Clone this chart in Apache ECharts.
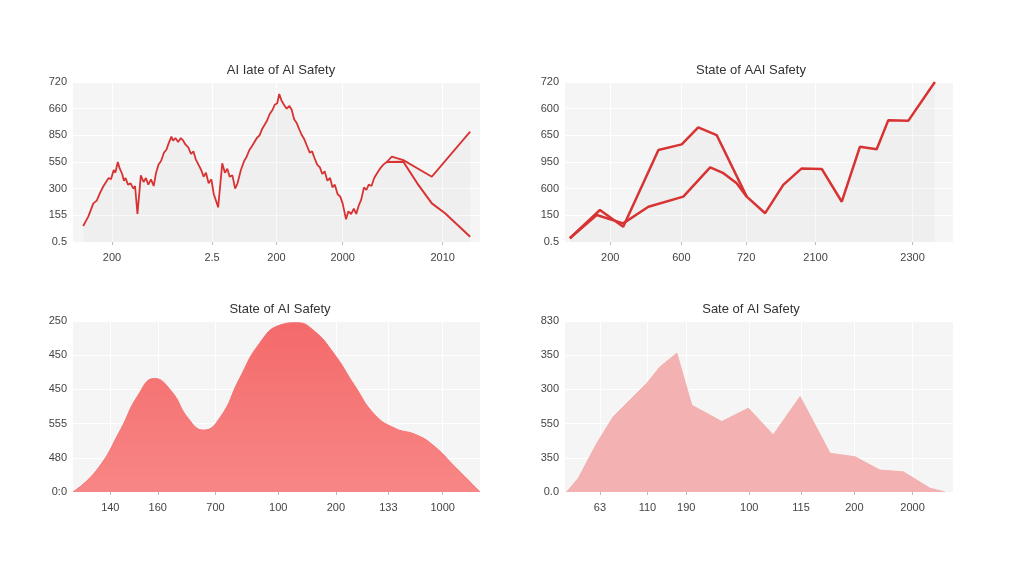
<!DOCTYPE html>
<html>
<head>
<meta charset="utf-8">
<script src="https://cdn.jsdelivr.net/npm/echarts@6/dist/echarts.min.js"></script>
<style>
  html, body { margin: 0; padding: 0; background: #fff; }
  #main { width: 1024px; height: 576px; }
</style>
</head>
<body>
<div id="main"></div>
<script>
// titles of the four panels
var titles = ['AI Iate of AI Safety', 'State of AAI Safety', 'State of AI Safety', 'Sate of AI Safety']

// y tick labels, bottom to top (axis runs on tick index)
var yLabels1 = ['0.5', '155', '300', '550', '850', '660', '720']
var yLabels2 = ['0.5', '150', '600', '950', '650', '600', '720']
var yLabels3 = ['0:0', '480', '555', '450', '450', '250']
var yLabels4 = ['0.0', '350', '550', '300', '350', '830']

// x tick labels and where they sit on the 0..12 axis
var xLabels1 = ['200', '2.5', '200', '2000', '2010']
var xPos1 = [1.15, 4.1, 6.0, 7.95, 10.9]
var xLabels2 = ['200', '600', '720', '2100', '2300']
var xPos2 = [1.4, 3.6, 5.6, 7.75, 10.75]
var xLabels3 = ['140', '160', '700', '100', '200', '133', '1000']
var xPos3 = [1.1, 2.5, 4.2, 6.05, 7.75, 9.3, 10.9]
var xLabels4 = ['63', '110', '190', '100', '115', '200', '2000']
var xPos4 = [1.08, 2.55, 3.75, 5.7, 7.3, 8.95, 10.75]

// panel 1: jagged line, then two branches at the end
var line1 = [[0.3, 0.6], [0.45, 0.95], [0.6, 1.45], [0.7, 1.55], [0.8, 1.85], [0.9, 2.1], [0.95, 2.05],
  [1.05, 2.4], [1.12, 2.35], [1.2, 2.7], [1.25, 2.6], [1.32, 3.0], [1.38, 2.75], [1.45, 2.55], [1.5, 2.3],
  [1.55, 2.4], [1.62, 2.15], [1.7, 2.2], [1.78, 2.0], [1.83, 2.1], [1.9, 1.05], [2.0, 2.5], [2.08, 2.25],
  [2.15, 2.4], [2.22, 2.15], [2.3, 2.35], [2.38, 2.1], [2.45, 2.6], [2.52, 2.9], [2.6, 3.05], [2.68, 3.35],
  [2.75, 3.45], [2.82, 3.7], [2.9, 3.95], [2.95, 3.8], [3.02, 3.9], [3.1, 3.75], [3.18, 3.9], [3.25, 3.8],
  [3.32, 3.65], [3.4, 3.55], [3.48, 3.3], [3.55, 3.4], [3.62, 3.1], [3.7, 2.9], [3.78, 2.7], [3.85, 2.45],
  [3.92, 2.6], [4.0, 2.2], [4.08, 2.35], [4.15, 1.8], [4.28, 1.3], [4.4, 2.95], [4.48, 2.6], [4.55, 2.75],
  [4.62, 2.45], [4.7, 2.5], [4.78, 2.0], [4.85, 2.2], [4.95, 2.7], [5.05, 3.05], [5.12, 3.2], [5.2, 3.45],
  [5.28, 3.6], [5.35, 3.75], [5.42, 3.9], [5.5, 4.0], [5.58, 4.25], [5.65, 4.4], [5.72, 4.55], [5.8, 4.8],
  [5.88, 4.95], [5.95, 5.15], [6.02, 5.2], [6.08, 5.55], [6.15, 5.3], [6.22, 5.15], [6.3, 5.0], [6.38, 5.1],
  [6.45, 4.95], [6.52, 4.6], [6.6, 4.45], [6.68, 4.2], [6.75, 4.0], [6.82, 3.85], [6.9, 3.6], [6.98, 3.35],
  [7.05, 3.4], [7.12, 3.15], [7.2, 2.9], [7.28, 2.8], [7.35, 2.55], [7.42, 2.65], [7.5, 2.3], [7.58, 2.4],
  [7.65, 2.05], [7.72, 2.15], [7.8, 1.8], [7.88, 1.7], [7.95, 1.45], [8.05, 0.85], [8.12, 1.15], [8.2, 1.05],
  [8.28, 1.25], [8.35, 1.05], [8.42, 1.35], [8.5, 1.6], [8.58, 2.05], [8.65, 1.95], [8.72, 2.15], [8.8, 2.1],
  [8.88, 2.4], [8.95, 2.55], [9.05, 2.75], [9.15, 2.9], [9.25, 3.0], [9.4, 3.2], [9.74, 3.07], [10.58, 2.45],
  [11.71, 4.14]]
var branch1 = [[9.25, 3.0], [9.74, 3.01], [10.15, 2.2], [10.58, 1.45], [10.97, 1.08], [11.71, 0.2]]

// panel 2: two lines that meet in the middle
var line2 = [[0.15, 0.14], [1.08, 1.2], [1.8, 0.57], [2.89, 3.45], [3.61, 3.66], [4.12, 4.3], [4.69, 4.01],
  [5.62, 1.7], [6.19, 1.08], [6.75, 2.14], [7.32, 2.76], [7.94, 2.74], [8.56, 1.51], [9.12, 3.57],
  [9.64, 3.48], [10.0, 4.57], [10.62, 4.55], [11.44, 6.0]]
var branch2 = [[0.15, 0.14], [0.98, 1.01], [1.8, 0.7], [2.58, 1.32], [3.66, 1.7], [4.49, 2.8], [4.9, 2.58],
  [5.31, 2.2], [5.62, 1.7]]

// panel 3: smooth area
var area3 = [[0, 0], [0.7, 0.64], [1.4, 1.82], [1.9, 2.8], [2.4, 3.32], [2.9, 2.95], [3.4, 2.15],
  [3.85, 1.81], [4.35, 2.2], [4.9, 3.3], [5.5, 4.35], [6.1, 4.88], [6.6, 4.95], [7.1, 4.72],
  [7.7, 4.04], [8.3, 3.12], [8.9, 2.26], [9.5, 1.86], [10.1, 1.68], [10.6, 1.38], [11.3, 0.7], [12, 0]]

// panel 4: angular area
var area4 = [[0.05, 0], [0.41, 0.4], [0.98, 1.42], [1.49, 2.2], [2.01, 2.69], [2.53, 3.18], [2.94, 3.66],
  [3.46, 4.06], [3.92, 2.54], [4.85, 2.06], [5.67, 2.45], [6.44, 1.67], [7.27, 2.79], [8.2, 1.13],
  [8.97, 1.03], [9.74, 0.64], [10.46, 0.59], [11.29, 0.11], [11.75, 0]]

var font = "'Liberation Sans', Arial, sans-serif"
var red = '#d83333'

var grids = [
  { left: 73, top: 82, width: 407, height: 160 },
  { left: 565, top: 82, width: 388, height: 160 },
  { left: 73, top: 321, width: 407, height: 171 },
  { left: 565, top: 321, width: 388, height: 171 }
]
var titleTops = [59, 59, 298, 298]
var titleCenters = [276, 746, 275, 746]

function xAxisFor(i, pos, labels) {
  return {
    type: 'value', gridIndex: i, min: 0, max: 12, interval: 1,
    axisLine: { show: false },
    axisTick: { show: true, customValues: pos, length: 3, lineStyle: { color: '#bbb' } },
    axisLabel: {
      customValues: pos, color: '#444', fontSize: 11, fontFamily: font, margin: 10,
      formatter: function(v) { return labels[pos.indexOf(v)] }
    },
    splitLine: { show: true, lineStyle: { color: '#ffffff', width: 1 } }
  }
}

function yAxisFor(i, labels) {
  return {
    type: 'value', gridIndex: i, min: 0, max: labels.length - 1, interval: 1,
    axisLine: { show: false },
    axisTick: { show: false },
    axisLabel: {
      color: '#444', fontSize: 11, fontFamily: font, margin: 6,
      formatter: function(v) { return labels[Math.round(v)] }
    },
    splitLine: { show: true, lineStyle: { color: '#ffffff', width: 1 } }
  }
}

var myChart = echarts.init(document.getElementById('main'))

var option = {
  backgroundColor: '#ffffff',
  animation: false,
  title: titles.map(function(t, i) {
    return {
      text: t, left: titleCenters[i], top: titleTops[i], textAlign: 'center',
      textStyle: { fontSize: 13, fontWeight: 'normal', color: '#333', fontFamily: font }
    }
  }),
  grid: grids.map(function(g) {
    return Object.assign({ show: true, backgroundColor: '#f5f5f5', borderWidth: 0 }, g)
  }),
  xAxis: [
    xAxisFor(0, xPos1, xLabels1),
    xAxisFor(1, xPos2, xLabels2),
    xAxisFor(2, xPos3, xLabels3),
    xAxisFor(3, xPos4, xLabels4)
  ],
  yAxis: [
    yAxisFor(0, yLabels1),
    yAxisFor(1, yLabels2),
    yAxisFor(2, yLabels3),
    yAxisFor(3, yLabels4)
  ],
  series: [
    {
      type: 'line', xAxisIndex: 0, yAxisIndex: 0, data: line1, symbol: 'none',
      lineStyle: { color: red, width: 1.8 }, areaStyle: { color: 'rgba(0,0,0,0.03)' }
    },
    {
      type: 'line', xAxisIndex: 0, yAxisIndex: 0, data: branch1, symbol: 'none',
      lineStyle: { color: red, width: 2 }
    },
    {
      type: 'line', xAxisIndex: 1, yAxisIndex: 1, data: line2, symbol: 'none',
      lineStyle: { color: red, width: 2.5 }, areaStyle: { color: 'rgba(0,0,0,0.03)' }
    },
    {
      type: 'line', xAxisIndex: 1, yAxisIndex: 1, data: branch2, symbol: 'none',
      lineStyle: { color: red, width: 2.5 }
    },
    {
      type: 'line', xAxisIndex: 2, yAxisIndex: 2, data: area3, symbol: 'none', smooth: 0.5,
      lineStyle: { color: '#f47474', width: 1 },
      areaStyle: {
        opacity: 1,
        color: new echarts.graphic.LinearGradient(0, 0, 0, 1, [
          { offset: 0, color: '#f46a6a' },
          { offset: 1, color: '#f88686' }
        ])
      }
    },
    {
      type: 'line', xAxisIndex: 3, yAxisIndex: 3, data: area4, symbol: 'none',
      lineStyle: { color: '#f3b0b0', width: 1 },
      areaStyle: { color: '#f3b1b1', opacity: 1 }
    }
  ]
}

myChart.setOption(option)
</script>
</body>
</html>
